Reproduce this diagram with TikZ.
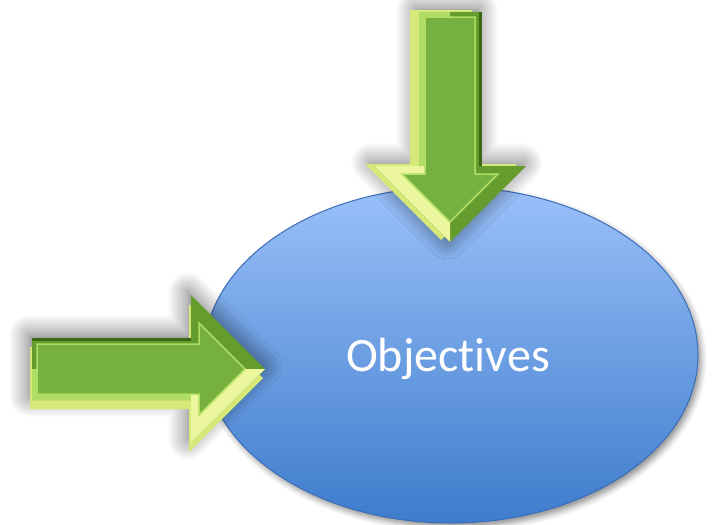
\documentclass[tikz,border=0pt]{standalone}
\usepackage{fontspec}
\setmainfont{Carlito}[Ligatures=NoCommon]
\usetikzlibrary{shapes.geometric,shadows.blur}
\definecolor{elltop}{RGB}{154,192,249}
\definecolor{ellbot}{RGB}{62,124,204}
\definecolor{elledge}{RGB}{58,110,184}
\definecolor{grface}{RGB}{118,176,62}
\definecolor{grbevel}{RGB}{100,156,46}
\definecolor{grlight}{RGB}{176,222,100}
\definecolor{grdark}{RGB}{60,104,22}
\definecolor{grside}{RGB}{236,246,156}
\definecolor{grsidedk}{RGB}{214,232,120}
% arrow outline, tip at origin, pointing +x : #1 length, #2 head length, #3 head half width, #4 shaft half width
\newcommand\arrpath[4]{(-#1,-#4) -- (-#2,-#4) -- (-#2,-#3) -- (0,0) -- (-#2,#3) -- (-#2,#4) -- (-#1,#4) -- cycle}
\newcommand\arrlow[4]{(-#2,0) -- (0,0) -- (-#2,#3) -- cycle}
\newcommand\arrshaftlow[4]{(-#1,0) -- (-#2,0) -- (-#2,#4) -- (-#1,#4) -- cycle}
\newcommand\arrinner[4]{(-#1+5,-#4+6) -- (-#2+8,-#4+6) -- (-#2+8,-#3+28) -- (-20,0) -- (-#2+8,#3-28) -- (-#2+8,#4-6) -- (-#1+5,#4-6) -- cycle}
\tikzset{
  pics/bevelarrow/.style args={#1/#2/#3/#4}{
    code={
      \path[blur shadow={shadow xshift=-3pt, shadow yshift=3pt, shadow blur radius=20pt, shadow opacity=60, shadow blur steps=14}] \arrpath{#1}{#2}{#3}{#4};
      \fill[grsidedk, shift={(-2,9)}] \arrpath{#1}{#2}{#3}{#4};
      \fill[grbevel] \arrpath{#1}{#2}{#3}{#4};
      \fill[grlight] \arrshaftlow{#1}{#2}{#3}{#4};
      \fill[grside] \arrlow{#1}{#2}{#3}{#4};
      \fill[grface, draw=grlight, line width=1.5pt] \arrinner{#1}{#2}{#3}{#4};
      \draw[grdark, line width=3pt] (-#1,-#4+1) -- (-#2,-#4+1);
    }
  }
}
\begin{document}
\begin{tikzpicture}[x=1pt,y=-1pt]
\useasboundingbox (0,0) rectangle (713,525);
\node[ellipse, draw=elledge, line width=1pt, top color=elltop, bottom color=ellbot,
      minimum width=494pt, minimum height=336pt, inner sep=0pt, text depth=0pt,
      text=white, font=\fontsize{48}{56}\selectfont,
      blur shadow={shadow xshift=3pt, shadow yshift=-4pt, shadow blur radius=6pt, shadow opacity=45}]
      (obj) at (451,355) {\hspace*{-6pt}Objectives};
\pic (toparrow) [rotate=-90] at (450,242) {bevelarrow=230/76/76/31};
\pic (leftarrow) at (265,369) {bevelarrow=233/74/74/31};
\end{tikzpicture}
\end{document}
